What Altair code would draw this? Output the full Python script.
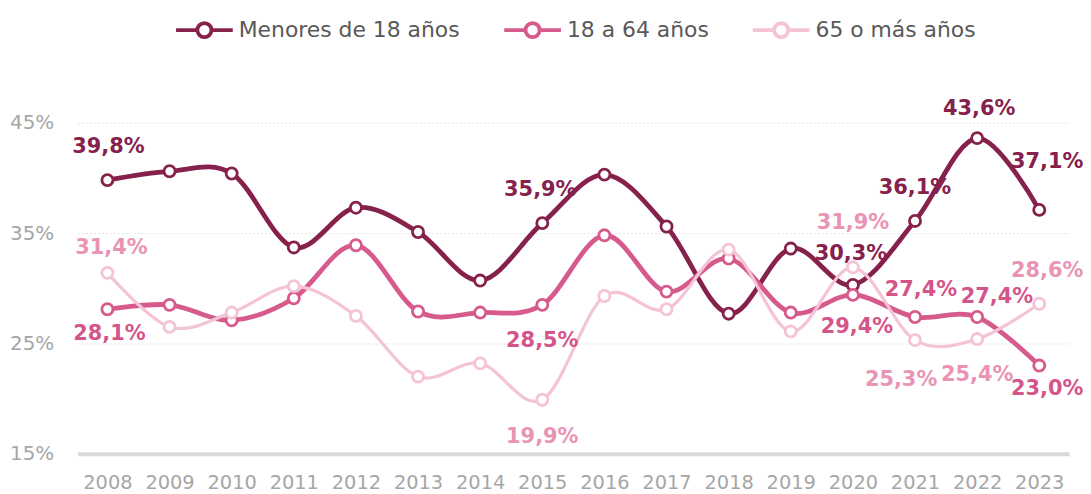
import altair as alt
import pandas as pd

years = [str(y) for y in range(2008, 2024)]
series_names = ["Menores de 18 años", "18 a 64 años", "65 o más años"]
menores = [39.8, 40.6, 40.4, 33.7, 37.3, 35.1, 30.7, 35.9, 40.3, 35.6, 27.7, 33.6, 30.3, 36.1, 43.6, 37.1]
adultos = [28.1, 28.5, 27.1, 29.1, 33.9, 27.9, 27.8, 28.5, 34.8, 29.7, 32.7, 27.8, 29.4, 27.4, 27.4, 23.0]
mayores = [31.4, 26.5, 27.8, 30.2, 27.5, 22.0, 23.2, 19.9, 29.3, 28.1, 33.5, 26.1, 31.9, 25.3, 25.4, 28.6]
y_ticks = [15, 25, 35, 45]

line_colors = ["#86214c", "#d75a8c", "#f4c3d5"]
label_colors = ["#86214c", "#d4558a", "#e993b5"]
line_widths = [4.8, 4.8, 3.2]

rows = []
for name, vals in zip(series_names, [menores, adultos, mayores]):
    for yr, v in zip(years, vals):
        rows.append({"series": name, "year": yr, "value": v,
                     "label": f"{v:.1f}".replace(".", ",") + "%"})
df = pd.DataFrame(rows)

# (series index, year, dx, dy) for the value labels
label_specs = [
    (0, "2008", 1, -33), (0, "2015", -2, -33), (0, "2020", -2, -31),
    (0, "2021", 0, -33), (0, "2022", 2, -29), (0, "2023", 8, -48),
    (1, "2008", 2, 25), (1, "2015", 0, 36), (1, "2020", 4, 32),
    (1, "2021", 6, -27), (1, "2022", 20, -20), (1, "2023", 8, 24),
    (2, "2008", 4, -25), (2, "2015", 0, 37), (2, "2020", 0, -45),
    (2, "2021", -14, 40), (2, "2022", 0, 36), (2, "2023", 8, -33),
]

x_enc = alt.X("year:O", sort=years,
              scale=alt.Scale(type="point", padding=0.48),
              axis=alt.Axis(title=None, labelAngle=0, ticks=False, tickSize=0,
                            domainColor="#d9d9d9", domainWidth=4,
                            labelColor="#a6a6a6", labelFont="DejaVu Sans",
                            labelFontSize=19.5, labelPadding=20, grid=False))
y_enc = alt.Y("value:Q",
              scale=alt.Scale(domain=[15, 45], nice=False, zero=False),
              axis=alt.Axis(title=None, values=y_ticks, labelExpr="datum.value + '%'",
                            domain=False, ticks=False, labelColor="#a6a6a6",
                            labelFont="DejaVu Sans", labelFontSize=20,
                            labelPadding=24, grid=True, gridColor="#e4e4e4",
                            gridDash=[2, 2], gridWidth=1))

stroke_scale = alt.Scale(domain=series_names, range=line_colors)
legend_path = ("M-1,0L-0.25,0M0.25,0A0.25,0.25,0,1,1,-0.25,0"
               "A0.25,0.25,0,1,1,0.25,0M0.25,0L1,0")
legend = alt.Legend(title=None, orient="none", direction="horizontal",
                    legendX=97, legendY=-124, symbolType=legend_path,
                    symbolSize=3249, symbolStrokeWidth=3.8,
                    symbolFillColor="white", labelFont="DejaVu Sans",
                    labelFontSize=22, labelColor="#595959", labelOffset=4,
                    labelLimit=0, columnPadding=36, symbolOpacity=1)

layers = []
for i, name in enumerate(series_names):
    base = alt.Chart(df).transform_filter(alt.datum.series == name)
    line = base.mark_line(interpolate="cardinal", strokeWidth=line_widths[i]).encode(
        x=x_enc, y=y_enc,
        stroke=alt.Stroke("series:N", scale=stroke_scale,
                          legend=legend if i == 0 else None),
    )
    pts = base.mark_point(filled=True, fill="white", size=125, strokeWidth=2.8,
                          opacity=1).encode(
        x=x_enc, y=y_enc,
        stroke=alt.Stroke("series:N", scale=stroke_scale, legend=None),
    )
    layers += [line, pts]

for si, yr, dx, dy in label_specs:
    name = series_names[si]
    t = alt.Chart(df).transform_filter(
        (alt.datum.series == name) & (alt.datum.year == yr)
    ).mark_text(dx=dx, dy=dy, font="DejaVu Sans", fontWeight="bold",
                fontSize=21, color=label_colors[si], baseline="middle",
                align="center").encode(x=x_enc, y=y_enc, text="label:N")
    layers.append(t)

chart = alt.layer(*layers).properties(
    width=997, height=333,
    autosize=alt.AutoSizeParams(type="none"),
    padding={"left": 70, "top": 114, "right": 14, "bottom": 38},
).configure(background="white").configure_view(stroke=None)

chart.save("out.html", embed_options={"renderer": "svg", "actions": False})
